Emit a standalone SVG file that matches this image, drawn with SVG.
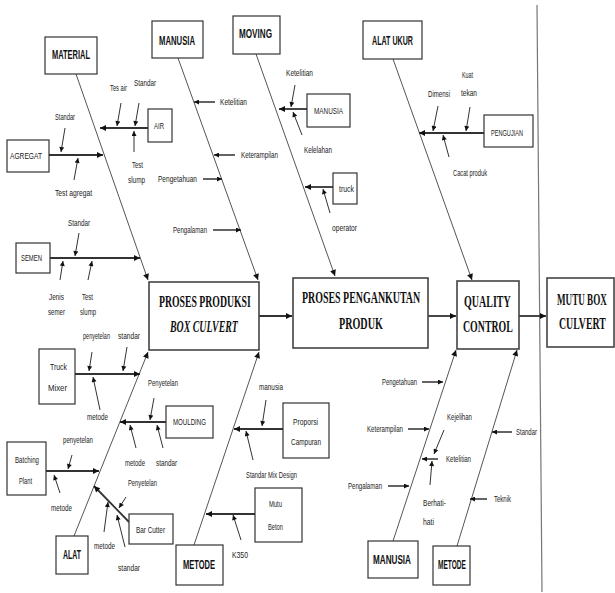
<svg xmlns="http://www.w3.org/2000/svg" width="615" height="593" viewBox="0 0 615 593">
<defs>
<marker id="a" viewBox="0 0 10 10" refX="10" refY="5" markerWidth="7" markerHeight="6" orient="auto" markerUnits="userSpaceOnUse"><path d="M0,0 L10,5 L0,10 z" fill="#111"/></marker>
<marker id="s" viewBox="0 0 10 10" refX="10" refY="5" markerWidth="6" markerHeight="5" orient="auto" markerUnits="userSpaceOnUse"><path d="M0,0 L10,5 L0,10 z" fill="#111"/></marker>
</defs>
<style>
.ln{stroke:#555;stroke-width:1;fill:none;marker-end:url(#a)}
.br{stroke:#333;stroke-width:1.8;fill:none;marker-end:url(#a)}
.sm{stroke:#333;stroke-width:1;fill:none;marker-end:url(#s)}
.hs{stroke:#222;stroke-width:1.4;fill:none;marker-end:url(#s)}
.bx{fill:#fff;stroke:#333;stroke-width:1.2}
.mb{fill:#fff;stroke:#444;stroke-width:1.6}
.lb{font-family:"Liberation Sans",Arial,sans-serif;font-size:9px;fill:#222}
.bl{font-family:"Liberation Sans",Arial,sans-serif;font-size:9.5px;fill:#222}
.ct{font-family:"Liberation Sans",Arial,sans-serif;font-size:12px;font-weight:bold;fill:#111}
.mt{font-family:"Liberation Serif","Times New Roman",serif;font-size:16px;font-weight:bold;fill:#111}
</style>
<rect width="615" height="593" fill="#fff"/>
<g id="connectors">
<line x1="537" y1="5" x2="542" y2="592" stroke="#777" stroke-width="1.2"/>
<line class="ln" x1="76" y1="74" x2="148" y2="280"/>
<line class="ln" x1="178" y1="58" x2="258" y2="280"/>
<line class="ln" x1="256" y1="54" x2="335" y2="276"/>
<line class="ln" x1="393" y1="59" x2="472" y2="280"/>
<line class="ln" x1="74" y1="536" x2="148" y2="352"/>
<line class="ln" x1="194" y1="545" x2="259" y2="352"/>
<line class="ln" x1="393" y1="541" x2="456" y2="350"/>
<line class="ln" x1="457" y1="546" x2="517" y2="350"/>
<line class="br" x1="259" y1="316" x2="292" y2="316"/>
<line class="br" x1="428" y1="316" x2="456" y2="316"/>
<line class="br" x1="519" y1="316" x2="546" y2="316"/>
<line class="br" x1="148" y1="128" x2="100" y2="128"/>
<line class="br" x1="49" y1="155" x2="103" y2="155"/>
<line class="br" x1="50" y1="258" x2="140" y2="258"/>
<line class="br" x1="75" y1="374" x2="140" y2="374"/>
<line class="br" x1="166" y1="422" x2="120" y2="422"/>
<line class="br" x1="46" y1="471" x2="99" y2="471"/>
<line class="br" x1="129" y1="522" x2="94" y2="486"/>
<line class="br" x1="283" y1="429" x2="234" y2="429"/>
<line class="br" x1="255" y1="514" x2="206" y2="514"/>
<line class="br" x1="307" y1="109" x2="279" y2="109"/>
<line class="br" x1="333" y1="187" x2="305" y2="187"/>
<line class="br" x1="484" y1="133" x2="419" y2="133"/>
<line class="sm" x1="121" y1="103" x2="117" y2="126"/>
<line class="sm" x1="139" y1="103" x2="135" y2="126"/>
<line class="sm" x1="134" y1="152" x2="134" y2="131"/>
<line class="sm" x1="65" y1="128" x2="61" y2="152"/>
<line class="sm" x1="74" y1="180" x2="78" y2="158"/>
<line class="sm" x1="79" y1="233" x2="75" y2="256"/>
<line class="sm" x1="60" y1="280" x2="63" y2="261"/>
<line class="sm" x1="88" y1="280" x2="92" y2="261"/>
<line class="sm" x1="92" y1="352" x2="89" y2="371"/>
<line class="sm" x1="127" y1="347" x2="123" y2="371"/>
<line class="sm" x1="100" y1="410" x2="93" y2="377"/>
<line class="sm" x1="154" y1="398" x2="150" y2="420"/>
<line class="sm" x1="136" y1="448" x2="130" y2="425"/>
<line class="sm" x1="163" y1="448" x2="157" y2="425"/>
<line class="sm" x1="72" y1="455" x2="68" y2="469"/>
<line class="sm" x1="60" y1="493" x2="54" y2="475"/>
<line class="sm" x1="126" y1="497" x2="119" y2="508"/>
<line class="sm" x1="104" y1="532" x2="108" y2="502"/>
<line class="sm" x1="125" y1="547" x2="117" y2="515"/>
<line class="sm" x1="266" y1="400" x2="262" y2="426"/>
<line class="sm" x1="253" y1="460" x2="246" y2="431"/>
<line class="sm" x1="241" y1="540" x2="233" y2="515"/>
<line class="sm" x1="295" y1="85" x2="291" y2="107"/>
<line class="sm" x1="302" y1="135" x2="293" y2="112"/>
<line class="sm" x1="330" y1="213" x2="323" y2="189"/>
<line class="sm" x1="438" y1="106" x2="433" y2="131"/>
<line class="sm" x1="470" y1="107" x2="466" y2="131"/>
<line class="sm" x1="449" y1="157" x2="443" y2="135"/>
<line class="sm" x1="444" y1="430" x2="434" y2="454"/>
<line class="sm" x1="430" y1="485" x2="432" y2="461"/>
<line class="hs" x1="215" y1="102" x2="194" y2="102"/>
<line class="hs" x1="235" y1="155" x2="214" y2="155"/>
<line class="hs" x1="203" y1="179" x2="222" y2="179"/>
<line class="hs" x1="213" y1="230" x2="241" y2="230"/>
<line class="hs" x1="422" y1="382" x2="443" y2="382"/>
<line class="hs" x1="408" y1="429" x2="429" y2="429"/>
<line class="hs" x1="438" y1="459" x2="422" y2="459"/>
<line class="hs" x1="388" y1="486" x2="409" y2="486"/>
<line class="hs" x1="512" y1="432" x2="492" y2="432"/>
<line class="hs" x1="487" y1="499" x2="470" y2="499"/>
</g>
<g id="labels">
<text class="lb" x="110" y="91" textLength="17" lengthAdjust="spacingAndGlyphs">Tes air</text>
<text class="lb" x="134" y="86" textLength="22" lengthAdjust="spacingAndGlyphs">Standar</text>
<text class="lb" x="132" y="168" textLength="11" lengthAdjust="spacingAndGlyphs">Test</text>
<text class="lb" x="128" y="183" textLength="17" lengthAdjust="spacingAndGlyphs">slump</text>
<text class="lb" x="55" y="120" textLength="20" lengthAdjust="spacingAndGlyphs">Standar</text>
<text class="lb" x="55" y="196" textLength="37" lengthAdjust="spacingAndGlyphs">Test agregat</text>
<text class="lb" x="68" y="226" textLength="22" lengthAdjust="spacingAndGlyphs">Standar</text>
<text class="lb" x="49" y="300" textLength="15" lengthAdjust="spacingAndGlyphs">Jenis</text>
<text class="lb" x="48" y="315" textLength="17" lengthAdjust="spacingAndGlyphs">semer</text>
<text class="lb" x="82" y="300" textLength="11" lengthAdjust="spacingAndGlyphs">Test</text>
<text class="lb" x="80" y="315" textLength="16" lengthAdjust="spacingAndGlyphs">slump</text>
<text class="lb" transform="translate(83,339) scale(0.65,1)" textLength="41.5" lengthAdjust="spacingAndGlyphs">penyetelan</text>
<text class="lb" x="118" y="339" textLength="22" lengthAdjust="spacingAndGlyphs">standar</text>
<text class="lb" x="87" y="420" textLength="21" lengthAdjust="spacingAndGlyphs">metode</text>
<text class="lb" x="148" y="386" textLength="30" lengthAdjust="spacingAndGlyphs">Penyetelan</text>
<text class="lb" x="125" y="466" textLength="20" lengthAdjust="spacingAndGlyphs">metode</text>
<text class="lb" x="156" y="466" textLength="21" lengthAdjust="spacingAndGlyphs">standar</text>
<text class="lb" x="63" y="443" textLength="30" lengthAdjust="spacingAndGlyphs">penyetelan</text>
<text class="lb" x="51" y="511" textLength="21" lengthAdjust="spacingAndGlyphs">metode</text>
<text class="lb" x="128" y="486" textLength="29" lengthAdjust="spacingAndGlyphs">Penyetelan</text>
<text class="lb" x="94" y="549" textLength="21" lengthAdjust="spacingAndGlyphs">metode</text>
<text class="lb" x="118" y="571" textLength="22" lengthAdjust="spacingAndGlyphs">standar</text>
<text class="lb" x="259" y="390" textLength="24" lengthAdjust="spacingAndGlyphs">manusia</text>
<text class="lb" x="246" y="478" textLength="51" lengthAdjust="spacingAndGlyphs">Standar Mix Design</text>
<text class="lb" x="232" y="558" textLength="16" lengthAdjust="spacingAndGlyphs">K350</text>
<text class="lb" x="220" y="105" textLength="27" lengthAdjust="spacingAndGlyphs">Ketelitian</text>
<text class="lb" x="241" y="158" textLength="37" lengthAdjust="spacingAndGlyphs">Keterampilan</text>
<text class="lb" x="158" y="182" textLength="39" lengthAdjust="spacingAndGlyphs">Pengetahuan</text>
<text class="lb" x="173" y="233" textLength="34" lengthAdjust="spacingAndGlyphs">Pengalaman</text>
<text class="lb" x="286" y="76" textLength="27" lengthAdjust="spacingAndGlyphs">Ketelitian</text>
<text class="lb" x="304" y="153" textLength="28" lengthAdjust="spacingAndGlyphs">Kelelahan</text>
<text class="lb" x="332" y="231" textLength="25" lengthAdjust="spacingAndGlyphs">operator</text>
<text class="lb" x="428" y="97" textLength="22" lengthAdjust="spacingAndGlyphs">Dimensi</text>
<text class="lb" x="462" y="78" textLength="11" lengthAdjust="spacingAndGlyphs">Kuat</text>
<text class="lb" x="461" y="96" textLength="16" lengthAdjust="spacingAndGlyphs">tekan</text>
<text class="lb" x="453" y="176" textLength="34" lengthAdjust="spacingAndGlyphs">Cacat produk</text>
<text class="lb" x="382" y="385" textLength="35" lengthAdjust="spacingAndGlyphs">Pengetahuan</text>
<text class="lb" x="367" y="432" textLength="36" lengthAdjust="spacingAndGlyphs">Keterampilan</text>
<text class="lb" x="447" y="420" textLength="25" lengthAdjust="spacingAndGlyphs">Kejelihan</text>
<text class="lb" x="446" y="462" textLength="25" lengthAdjust="spacingAndGlyphs">Ketelitian</text>
<text class="lb" x="423" y="506" textLength="23" lengthAdjust="spacingAndGlyphs">Berhati-</text>
<text class="lb" x="423" y="525" textLength="11" lengthAdjust="spacingAndGlyphs">hati</text>
<text class="lb" x="348" y="489" textLength="34" lengthAdjust="spacingAndGlyphs">Pengalaman</text>
<text class="lb" x="516" y="435" textLength="21" lengthAdjust="spacingAndGlyphs">Standar</text>
<text class="lb" x="494" y="502" textLength="17" lengthAdjust="spacingAndGlyphs">Teknik</text>
</g>
<g id="material"><rect class="bx" x="45" y="37" width="52" height="37"/><text class="ct" x="52" y="59" textLength="38" lengthAdjust="spacingAndGlyphs">MATERIAL</text></g>
<g id="manusia-top"><rect class="bx" x="152" y="21" width="51" height="37"/><text class="ct" x="159" y="45" textLength="36" lengthAdjust="spacingAndGlyphs">MANUSIA</text></g>
<g id="moving"><rect class="bx" x="233" y="16" width="47" height="38"/><text class="ct" x="239" y="38" textLength="33" lengthAdjust="spacingAndGlyphs">MOVING</text></g>
<g id="alat-ukur"><rect class="bx" x="363" y="21" width="59" height="38"/><text class="ct" x="372" y="45" textLength="41" lengthAdjust="spacingAndGlyphs">ALAT UKUR</text></g>
<g id="alat"><rect class="bx" x="56" y="536" width="32" height="38"/><text class="ct" x="63" y="559" textLength="18" lengthAdjust="spacingAndGlyphs">ALAT</text></g>
<g id="metode-left"><rect class="bx" x="176" y="545" width="47" height="40"/><text class="ct" x="183" y="569" textLength="32" lengthAdjust="spacingAndGlyphs">METODE</text></g>
<g id="manusia-bottom"><rect class="bx" x="368" y="541" width="50" height="37"/><text class="ct" x="373" y="564" textLength="38" lengthAdjust="spacingAndGlyphs">MANUSIA</text></g>
<g id="metode-right"><rect class="bx" x="433" y="546" width="37" height="39"/><text class="ct" x="438" y="569" textLength="28" lengthAdjust="spacingAndGlyphs">METODE</text></g>
<g id="air"><rect class="bx" x="148" y="109" width="24" height="33"/><text class="bl" x="154" y="129" textLength="10" lengthAdjust="spacingAndGlyphs">AIR</text></g>
<g id="agregat"><rect class="bx" x="7" y="140" width="42" height="32"/><text class="bl" x="10" y="159" textLength="32" lengthAdjust="spacingAndGlyphs">AGREGAT</text></g>
<g id="semen"><rect class="bx" x="16" y="243" width="34" height="30"/><text class="bl" x="21" y="261" textLength="21" lengthAdjust="spacingAndGlyphs">SEMEN</text></g>
<g id="truck-mixer"><rect class="bx" x="39" y="349" width="36" height="55"/><text class="bl" x="50" y="370" textLength="17" lengthAdjust="spacingAndGlyphs">Truck</text><text class="bl" x="48" y="391" textLength="19" lengthAdjust="spacingAndGlyphs">Mixer</text></g>
<g id="moulding"><rect class="bx" x="166" y="406" width="47" height="32"/><text class="bl" x="173" y="425" textLength="33" lengthAdjust="spacingAndGlyphs">MOULDING</text></g>
<g id="batching-plant"><rect class="bx" x="7" y="442" width="39" height="53"/><text class="bl" x="15" y="463" textLength="24" lengthAdjust="spacingAndGlyphs">Batching</text><text class="bl" x="19" y="484" textLength="13" lengthAdjust="spacingAndGlyphs">Plant</text></g>
<g id="bar-cutter"><rect class="bx" x="129" y="514" width="44" height="30"/><text class="bl" x="136" y="533" textLength="29" lengthAdjust="spacingAndGlyphs">Bar Cutter</text></g>
<g id="proporsi"><rect class="bx" x="283" y="403" width="46" height="55"/><text class="bl" x="293" y="425" textLength="25" lengthAdjust="spacingAndGlyphs">Proporsi</text><text class="bl" x="291" y="445" textLength="30" lengthAdjust="spacingAndGlyphs">Campuran</text></g>
<g id="mutu-beton"><rect class="bx" x="255" y="488" width="47" height="54"/><text class="bl" x="269" y="507" textLength="13" lengthAdjust="spacingAndGlyphs">Mutu</text><text class="bl" x="268" y="530" textLength="15" lengthAdjust="spacingAndGlyphs">Beton</text></g>
<g id="manusia-moving"><rect class="bx" x="307" y="94" width="43" height="33"/><text class="bl" x="314" y="114" textLength="29" lengthAdjust="spacingAndGlyphs">MANUSIA</text></g>
<g id="truck"><rect class="bx" x="333" y="173" width="24" height="31"/><text class="bl" x="339" y="192" textLength="15" lengthAdjust="spacingAndGlyphs">truck</text></g>
<g id="pengujian"><rect class="bx" x="484" y="115" width="49" height="32"/><text class="bl" x="491" y="136" textLength="32" lengthAdjust="spacingAndGlyphs">PENGUJIAN</text></g>
<g id="proses-produksi"><rect class="mb" x="149" y="282" width="110" height="68"/><text class="mt" transform="translate(159,307) scale(0.6,1)" textLength="153" lengthAdjust="spacingAndGlyphs">PROSES PRODUKSI</text><text class="mt" transform="translate(170,332) scale(0.6,1)" font-style="italic" textLength="113" lengthAdjust="spacingAndGlyphs">BOX CULVERT</text></g>
<g id="proses-pengankutan"><rect class="mb" x="293" y="278" width="135" height="70"/><text class="mt" transform="translate(302,303) scale(0.6,1)" textLength="197" lengthAdjust="spacingAndGlyphs">PROSES PENGANKUTAN</text><text class="mt" transform="translate(339,329) scale(0.6,1)" textLength="73" lengthAdjust="spacingAndGlyphs">PRODUK</text></g>
<g id="quality-control"><rect class="mb" x="457" y="281" width="62" height="68"/><text class="mt" transform="translate(464,307) scale(0.6,1)" textLength="78" lengthAdjust="spacingAndGlyphs">QUALITY</text><text class="mt" transform="translate(463,332) scale(0.6,1)" textLength="83" lengthAdjust="spacingAndGlyphs">CONTROL</text></g>
<g id="mutu-box-culvert"><rect class="mb" x="547" y="278" width="67" height="69"/><text class="mt" transform="translate(557,305) scale(0.6,1)" textLength="83" lengthAdjust="spacingAndGlyphs">MUTU BOX</text><text class="mt" transform="translate(559,329) scale(0.6,1)" textLength="78" lengthAdjust="spacingAndGlyphs">CULVERT</text></g>
</svg>
